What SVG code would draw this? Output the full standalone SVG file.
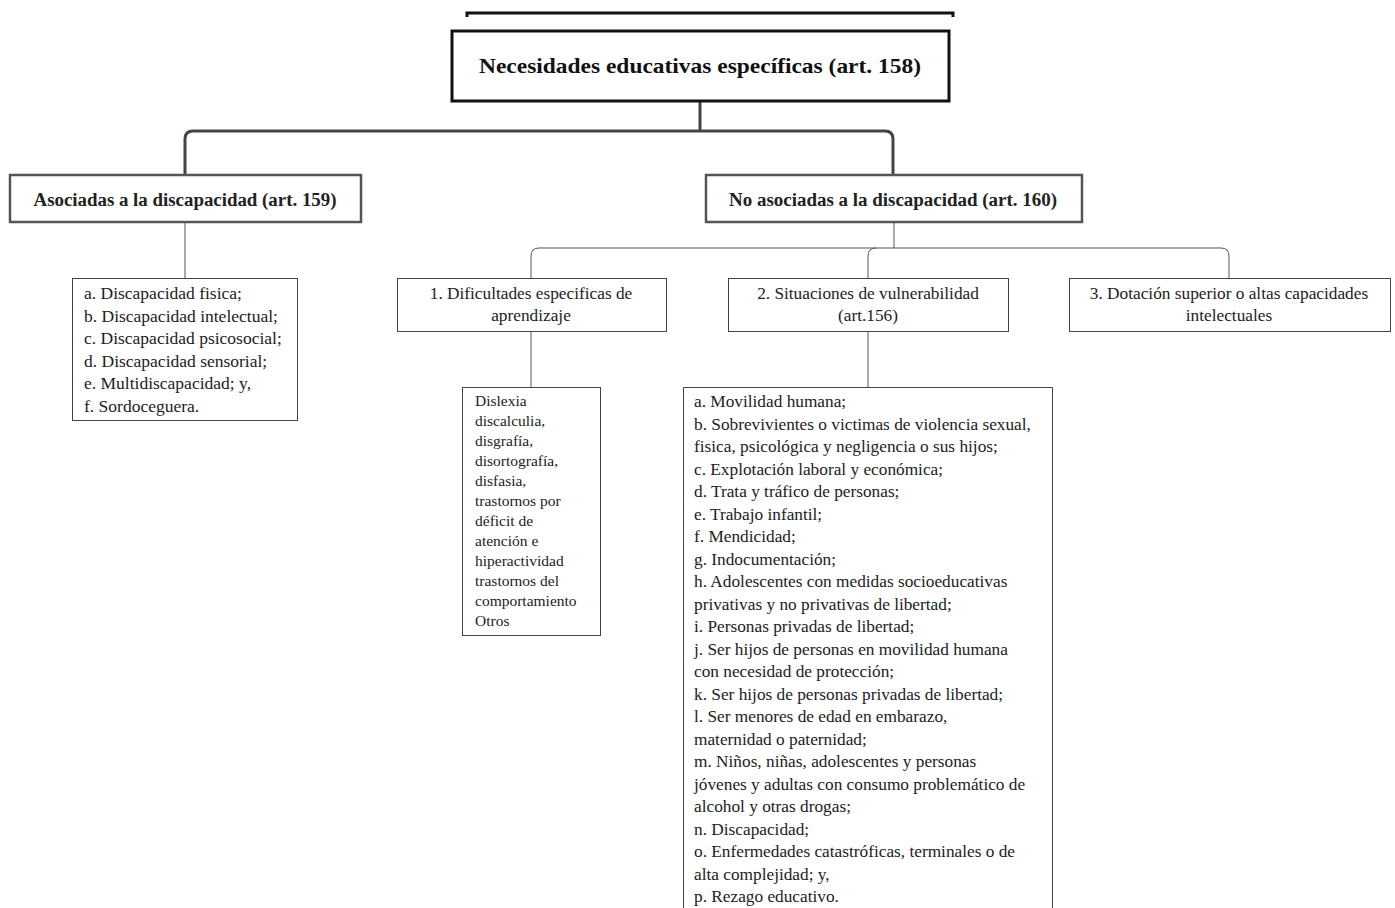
<svg xmlns="http://www.w3.org/2000/svg" width="1395" height="908" viewBox="0 0 1395 908">
<style>
text{font-family:"Liberation Serif","Times New Roman",serif;fill:#222}
.title{font-size:22px;font-weight:bold;fill:#111}
.h2{font-size:18.5px;font-weight:bold}
.t{font-size:17.3px}
.l{font-size:17.5px}
.s{font-size:15.5px}
.box1{fill:#fff;stroke:#111;stroke-width:3}
.box2{fill:#fff;stroke:#555;stroke-width:2.5}
.box3{fill:#fff;stroke:#444;stroke-width:1}
.thick{fill:none;stroke:#444;stroke-width:3}
.thin{fill:none;stroke:#555;stroke-width:1}
</style>
<rect width="1395" height="908" fill="#fff"/>
<path d="M467 17 V13 H953 V17" fill="none" stroke="#111" stroke-width="3"/>
<g id="connectors">
<path class="thick" d="M700 101 V131"/>
<path class="thick" d="M185 175 V139 Q185 131 193 131 H885 Q893 131 893 139 V175"/>
<path class="thin" d="M185 222 V278"/>
<path class="thin" d="M894 222 V248"/>
<path class="thin" d="M531 278 V256 Q531 248 539 248 H1221 Q1229 248 1229 256 V278"/>
<path class="thin" d="M868 278 V256 Q868 248 876 248"/>
<path class="thin" d="M531 331 V387"/>
<path class="thin" d="M868 331 V387"/>
</g>
<g id="root">
<rect class="box1" x="452" y="31" width="497" height="70"/>
<text class="title" x="700" y="73" text-anchor="middle" textLength="442" lengthAdjust="spacingAndGlyphs">Necesidades educativas específicas (art. 158)</text>
</g>
<g id="asociadas">
<rect class="box2" x="10" y="175" width="351" height="47"/>
<text class="h2" x="185" y="206" text-anchor="middle" textLength="303" lengthAdjust="spacingAndGlyphs">Asociadas a la discapacidad (art. 159)</text>
</g>
<g id="no-asociadas">
<rect class="box2" x="706" y="175" width="376" height="47"/>
<text class="h2" x="893" y="206" text-anchor="middle" textLength="328" lengthAdjust="spacingAndGlyphs">No asociadas a la discapacidad (art. 160)</text>
</g>
<g id="lista-discapacidad">
<rect class="box3" x="72.5" y="278.5" width="225" height="142"/>
<text class="l" x="84">
<tspan x="84" y="299">a. Discapacidad fisica;</tspan>
<tspan x="84" y="321.5">b. Discapacidad intelectual;</tspan>
<tspan x="84" y="344">c. Discapacidad psicosocial;</tspan>
<tspan x="84" y="366.5">d. Discapacidad sensorial;</tspan>
<tspan x="84" y="389">e. Multidiscapacidad; y,</tspan>
<tspan x="84" y="411.5">f. Sordoceguera.</tspan>
</text>
</g>
<g id="dificultades">
<rect class="box3" x="397.5" y="278.5" width="269" height="53"/>
<text class="t" text-anchor="middle"><tspan x="531" y="299">1. Dificultades especificas de</tspan><tspan x="531" y="321">aprendizaje</tspan></text>
</g>
<g id="vulnerabilidad">
<rect class="box3" x="728.5" y="278.5" width="280" height="53"/>
<text class="t" text-anchor="middle"><tspan x="868" y="299">2. Situaciones de vulnerabilidad</tspan><tspan x="868" y="321">(art.156)</tspan></text>
</g>
<g id="dotacion">
<rect class="box3" x="1069.5" y="278.5" width="321" height="53"/>
<text class="t" text-anchor="middle"><tspan x="1229" y="299">3. Dotación superior o altas capacidades</tspan><tspan x="1229" y="321">intelectuales</tspan></text>
</g>
<g id="lista-dificultades">
<rect class="box3" x="462.5" y="387.5" width="138" height="248"/>
<text class="s">
<tspan x="475" y="406">Dislexia</tspan>
<tspan x="475" y="426">discalculia,</tspan>
<tspan x="475" y="446">disgrafía,</tspan>
<tspan x="475" y="466">disortografía,</tspan>
<tspan x="475" y="486">disfasia,</tspan>
<tspan x="475" y="506">trastornos por</tspan>
<tspan x="475" y="526">déficit de</tspan>
<tspan x="475" y="546">atención e</tspan>
<tspan x="475" y="566">hiperactividad</tspan>
<tspan x="475" y="586">trastornos del</tspan>
<tspan x="475" y="606">comportamiento</tspan>
<tspan x="475" y="626">Otros</tspan>
</text>
</g>
<g id="lista-vulnerabilidad">
<path class="box3" d="M683.5 910 V387.5 H1052.5 V910"/>
<text class="t">
<tspan x="694" y="407">a. Movilidad humana;</tspan>
<tspan x="694" y="429.5">b. Sobrevivientes o victimas de violencia sexual,</tspan>
<tspan x="694" y="452">fisica, psicológica y negligencia o sus hijos;</tspan>
<tspan x="694" y="474.5">c. Explotación laboral y económica;</tspan>
<tspan x="694" y="497">d. Trata y tráfico de personas;</tspan>
<tspan x="694" y="519.5">e. Trabajo infantil;</tspan>
<tspan x="694" y="542">f. Mendicidad;</tspan>
<tspan x="694" y="564.5">g. Indocumentación;</tspan>
<tspan x="694" y="587">h. Adolescentes con medidas socioeducativas</tspan>
<tspan x="694" y="609.5">privativas y no privativas de libertad;</tspan>
<tspan x="694" y="632">i. Personas privadas de libertad;</tspan>
<tspan x="694" y="654.5">j. Ser hijos de personas en movilidad humana</tspan>
<tspan x="694" y="677">con necesidad de protección;</tspan>
<tspan x="694" y="699.5">k. Ser hijos de personas privadas de libertad;</tspan>
<tspan x="694" y="722">l. Ser menores de edad en embarazo,</tspan>
<tspan x="694" y="744.5">maternidad o paternidad;</tspan>
<tspan x="694" y="767">m. Niños, niñas, adolescentes y personas</tspan>
<tspan x="694" y="789.5">jóvenes y adultas con consumo problemático de</tspan>
<tspan x="694" y="812">alcohol y otras drogas;</tspan>
<tspan x="694" y="834.5">n. Discapacidad;</tspan>
<tspan x="694" y="857">o. Enfermedades catastróficas, terminales o de</tspan>
<tspan x="694" y="879.5">alta complejidad; y,</tspan>
<tspan x="694" y="902">p. Rezago educativo.</tspan>
</text>
</g>
</svg>
